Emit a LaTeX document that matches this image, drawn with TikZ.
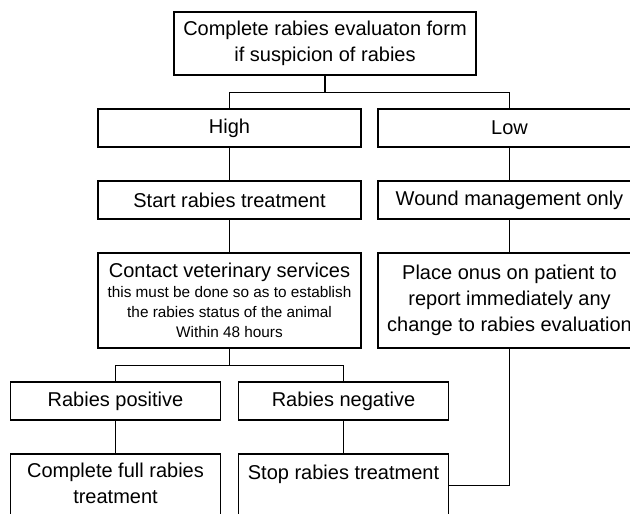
\documentclass[tikz,border=0pt]{standalone}
\usepackage{fontspec}
\setmainfont{Liberation Sans}
\usetikzlibrary{positioning}
\newcommand{\notefont}{\fontsize{11.5pt}{15pt}\selectfont}

\begin{document}
\begin{tikzpicture}[
  x=0.75pt, y=-0.75pt,
  box/.style={draw, line width=0.8pt, align=center, font=\fontsize{15pt}{19.5pt}\selectfont},
  widebox/.style={box, minimum width=197.25pt, minimum height=28.5pt},
  tallbox/.style={widebox, minimum height=71.25pt},
  halfbox/.style={box, minimum width=157.5pt, minimum height=28.5pt},
  openbox/.style={halfbox, text height=11.5pt, text depth=60pt, inner ysep=7.25pt},
  link/.style={line width=0.8pt},
  node distance=24.7pt and 11.95pt
]
\useasboundingbox (0,0) rectangle (630,513);
\clip (0,0) rectangle (630,513);

% Evaluation form
\node[box, minimum width=226.5pt, minimum height=47.25pt] (form) at (325,43.5) {Complete rabies evaluaton form\\if suspicion of rabies};

% Suspicion level
\node[widebox] (high) at (229.5,128) {High};
\node[widebox, right=of high] (low) {Low};

% High branch
\node[widebox, below=of high] (start) {Start rabies treatment};
\node[tallbox, below=of start] (vet) {Contact veterinary services\\[-4.5pt] \notefont this must be done so as to establish\\[-4.5pt] \notefont the rabies status of the animal\\[-4.5pt] \notefont Within 48 hours};

% Low branch
\node[widebox, below=of low] (wound) {Wound management only};
\node[tallbox, below=of wound] (onus) {Place onus on patient to\\report immediately any\\change to rabies evaluation};

% Rabies status
\node[halfbox, below left=24.7pt and 6.35pt of vet.south] (pos) {Rabies positive};
\node[halfbox, below right=24.7pt and 6.35pt of vet.south] (neg) {Rabies negative};
\node[openbox, below=of pos, text height=29.5pt, text depth=45pt] (full) {Complete full rabies\\treatment};
\node[openbox, below=of neg] (stop) {Stop rabies treatment};

% Connectors
\draw[link] (form.south) -- ++(0,17) -| (high.north);
\draw[link] (form.south) -- ++(0,17) -| (low.north);
\draw[link] (high) -- (start);
\draw[link] (start) -- (vet);
\draw[link] (low) -- (wound);
\draw[link] (wound) -- (onus);
\draw[link] (vet.south) -- ++(0,17) -| (pos.north);
\draw[link] (vet.south) -- ++(0,17) -| (neg.north);
\draw[link] (pos) -- (full);
\draw[link] (neg) -- (stop);

% Back to stop
\coordinate (back) at ([yshift=-24pt]stop.north east);
\draw[link, line width=1.4pt] (onus.south) |- (back);

\end{tikzpicture}
\end{document}
